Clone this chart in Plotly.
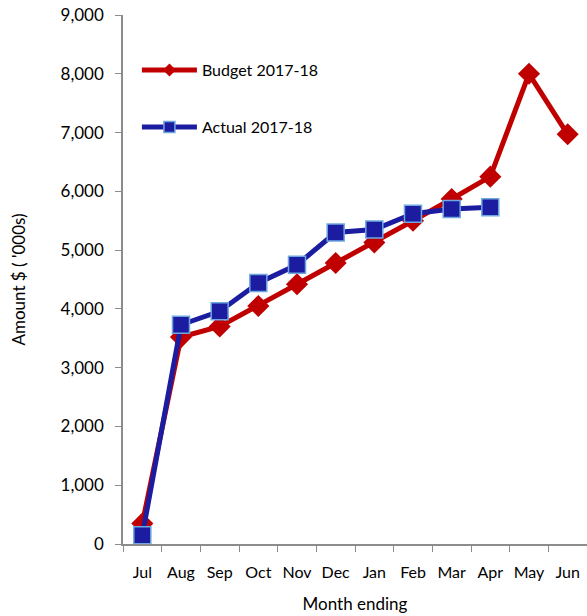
import plotly.graph_objects as go

months = ["Jul", "Aug", "Sep", "Oct", "Nov", "Dec", "Jan", "Feb", "Mar", "Apr", "May", "Jun"]
budget = [350, 3520, 3700, 4050, 4420, 4780, 5130, 5500, 5870, 6250, 8000, 6970]
actual_months = ["Jul", "Aug", "Sep", "Oct", "Nov", "Dec", "Jan", "Feb", "Mar", "Apr"]
actual = [150, 3730, 3960, 4440, 4750, 5300, 5350, 5620, 5700, 5730]

FONT = "Lato"
RED = "#c00000"
BLUE = "#1c1ca0"
EDGE = "#6fa8e0"

fig = go.Figure()
fig.add_trace(go.Scatter(
    x=months, y=budget, name="Budget 2017-18", mode="lines+markers",
    line=dict(color=RED, width=5),
    marker=dict(symbol="diamond", size=17, color=RED),
    showlegend=False,
))
fig.add_trace(go.Scatter(
    x=actual_months, y=actual, name="Actual 2017-18", mode="lines+markers",
    line=dict(color=BLUE, width=5),
    marker=dict(symbol="square", size=17, color=BLUE, line=dict(color=EDGE, width=1.5)),
    showlegend=False,
))
# legend entries (smaller symbols, as in the reference legend)
fig.add_trace(go.Scatter(
    x=[None], y=[None], name="Budget 2017-18", mode="lines+markers",
    line=dict(color=RED, width=5),
    marker=dict(symbol="diamond", size=10, color=RED),
    legend="legend",
))
fig.add_trace(go.Scatter(
    x=[None], y=[None], name="Actual 2017-18", mode="lines+markers",
    line=dict(color=BLUE, width=5),
    marker=dict(symbol="square", size=11, color=BLUE, line=dict(color=EDGE, width=1.5)),
    legend="legend2",
))

axis_common = dict(showline=True, linecolor="#8c8c8c", linewidth=1.5,
                   ticks="outside", tickcolor="#8c8c8c", ticklen=6,
                   showgrid=False, zeroline=False, automargin=False)

fig.update_layout(
    width=587, height=616,
    margin=dict(l=123, r=0, t=15, b=72),
    paper_bgcolor="white", plot_bgcolor="white",
    font=dict(family=FONT, size=17, color="black"),
    xaxis=dict(**axis_common, type="category", tickson="boundaries",
               categoryorder="array", categoryarray=months,
               range=[-0.5, 11.5], tickangle=0, ticklabelstandoff=13,
               tickfont=dict(size=16),
               title=dict(text="Month ending", standoff=18, font=dict(size=17))),
    yaxis=dict(**axis_common, range=[0, 9000], dtick=1000, tickformat=",",
               ticklabelstandoff=8,
               title=dict(text="Amount $ ( '000s)", standoff=31, font=dict(size=17))),
    legend=dict(x=0.03, y=0.896, xanchor="left", yanchor="middle",
                bgcolor="rgba(0,0,0,0)", itemwidth=55, font=dict(size=16)),
    legend2=dict(x=0.03, y=0.788, xanchor="left", yanchor="middle",
                 bgcolor="rgba(0,0,0,0)", itemwidth=55, font=dict(size=16)),
    showlegend=True,
)

fig.write_html("out.html")
